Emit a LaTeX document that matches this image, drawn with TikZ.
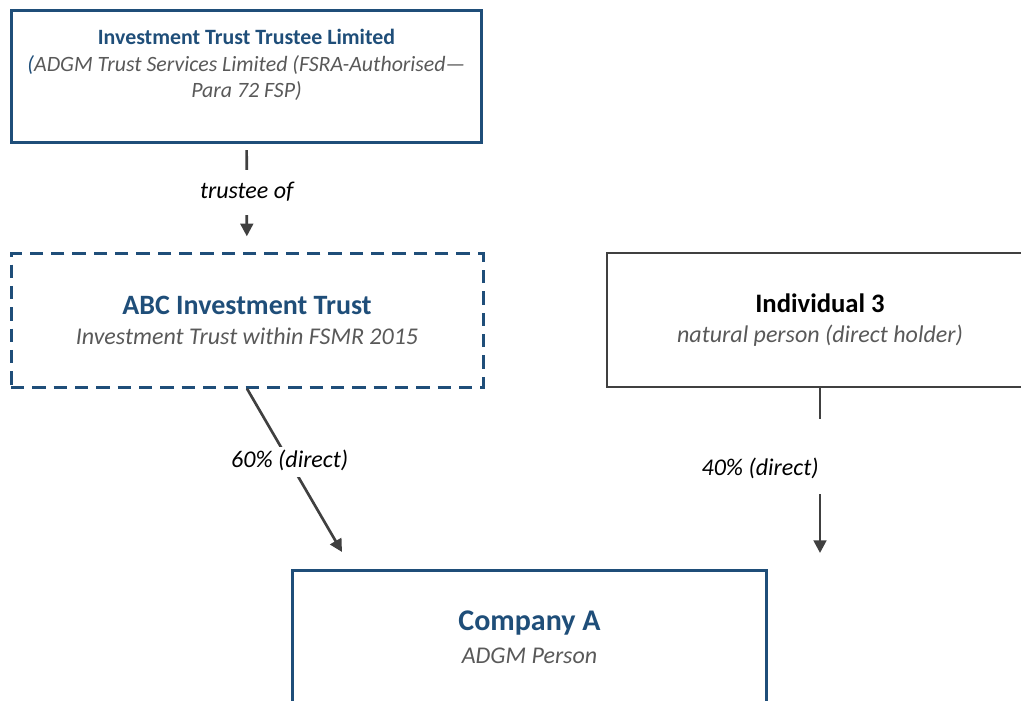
\documentclass[tikz,border=0pt]{standalone}
\usepackage{fontspec}
\setmainfont{Carlito}
\usetikzlibrary{arrows.meta}
\definecolor{trustblue}{HTML}{1F4E79}
\definecolor{subgray}{HTML}{595959}
\definecolor{linkgray}{HTML}{404040}

\begin{document}
\begin{tikzpicture}[x=0.75pt,y=-0.75pt,
  bluebox/.style={draw=trustblue, line width=2.25pt, inner sep=0pt, align=center},
  dashbox/.style={bluebox, dash pattern=on 10pt off 6pt},
  greybox/.style={draw=linkgray, line width=1.5pt, inner sep=0pt, align=center},
  link/.style={draw=linkgray, line width=2pt, -{Triangle[length=9.5pt,width=9.5pt]}},
  share/.style={fill=white, text=black, inner xsep=3pt,
    font=\fontsize{18}{22}\selectfont\itshape, text height=13pt, text depth=4.5pt}]
  % Rahmen
  \useasboundingbox (0,0) rectangle (1021,700);
  \clip (0,0) rectangle (1021,700);
  % Kästen
  \node[bluebox, minimum width=353pt, minimum height=99pt] (trustee) at (246.5,76) {};
  \node[align=center, font=\fontsize{16.4}{20}\selectfont] (trusteetext) at (246.5,65) {%
    {\bfseries\color{trustblue}Investment Trust Trustee Limited}\\
    {\itshape{\color{trustblue}(}\color{subgray}ADGM Trust Services Limited (FSRA-Authorised—}\\
    {\itshape\color{subgray}Para 72 FSP)}};
  \node[dashbox, minimum width=354pt, minimum height=100pt,
    font=\fontsize{18}{22.5}\selectfont] (abc) at (247,320.5) {%
    {\fontsize{21}{22.5}\selectfont\bfseries\color{trustblue}ABC Investment Trust}\\
    {\itshape\color{subgray}Investment Trust within FSMR 2015}};
  \node[greybox, minimum width=319.5pt, minimum height=100.5pt,
    font=\fontsize{18}{23}\selectfont] (ind) at (820,320) {%
    {\fontsize{20}{23}\selectfont\bfseries Individual 3}\\
    {\itshape\color{subgray}natural person (direct holder)}};
  \node[bluebox, minimum width=355pt, minimum height=100.5pt,
    font=\fontsize{18}{24.75}\selectfont] (company) at (529.5,637) {%
    {\fontsize{22.5}{24.75}\selectfont\bfseries\color{trustblue}Company A}\\
    {\itshape\color{subgray}ADGM Person}};
  % Pfeilspitzen
  \coordinate (tipA) at (342,552);
  \coordinate (tipB) at (820,553);
  % Pfeile mit Beschriftung
  \draw[link, shorten <=5pt, shorten >=12pt] (trustee) -- (abc)
    node[share, pos=0.45, inner ysep=8pt] (trusteelbl) {trustee of};
  \draw[link] (abc.south) -- (tipA)
    node[share, pos=0.45, inner ysep=2.6pt] (abclbl) {60\% (direct)};
  \draw[link] (ind.south) -- (tipB)
    node[share, pos=0.413, anchor=east, xshift=3pt, inner ysep=0pt,
      text height=42.75pt, text depth=13.5pt] (indlbl) {40\% (direct)};
\end{tikzpicture}
\end{document}
